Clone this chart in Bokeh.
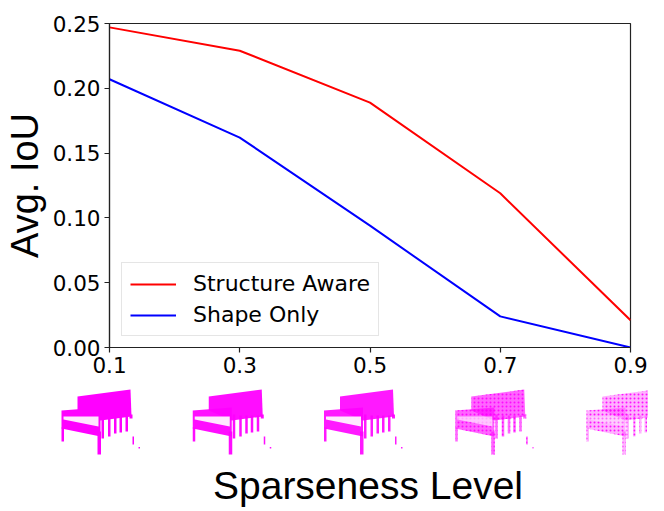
from bokeh.plotting import figure
from bokeh.models import Range1d, FixedTicker, Legend, LegendItem, NumeralTickFormatter
from bokeh.layouts import column
from bokeh.embed import file_html
from bokeh.resources import INLINE
from bokeh.core.properties import value

# ---------------- data ----------------
sparseness = [0.1, 0.3, 0.5, 0.7, 0.9]
structure_aware = [0.247, 0.229, 0.189, 0.119, 0.021]
shape_only = [0.207, 0.162, 0.094, 0.024, 0.0]
x_tick_labels = ["0.1", "0.3", "0.5", "0.7", "0.9"]
y_ticks = [0.0, 0.05, 0.10, 0.15, 0.20, 0.25]
y_tick_labels = ["0.00", "0.05", "0.10", "0.15", "0.20", "0.25"]
series_names = ["Structure Aware", "Shape Only"]

# ---------------- layout constants ----------------
W = 648
H1 = 388
H2 = 120
LEFT = 105
RIGHT = 18
TOP = 23
BOTTOM = 41

p = figure(width=W, height=H1, output_backend="svg", toolbar_location=None,
           x_range=Range1d(0.1, 0.9), y_range=Range1d(0.0, 0.25),
           min_border_left=LEFT, min_border_right=RIGHT,
           min_border_top=TOP, min_border_bottom=BOTTOM)
p.frame_align = False
p.grid.visible = False
p.outline_line_color = "#222222"
p.outline_line_width = 1.2
p.background_fill_color = "white"
p.border_fill_color = "white"

r1 = p.line(sparseness, structure_aware, line_color="#ff0000", line_width=2)
r2 = p.line(sparseness, shape_only, line_color="#0000ff", line_width=2)

for ax in (p.xaxis[0], p.yaxis[0]):
    ax.major_label_text_font = "DejaVu Sans"
    ax.major_label_text_font_size = "21.5px"
    ax.major_label_text_color = "black"
    ax.axis_line_color = "#222222"
    ax.axis_line_width = 1.2
    ax.major_tick_line_color = "#222222"
    ax.major_tick_line_width = 1.2
    ax.major_tick_out = 5
    ax.major_tick_in = 0
    ax.minor_tick_out = 0
    ax.minor_tick_in = 0
    ax.major_label_standoff = 4

p.xaxis.ticker = FixedTicker(ticks=sparseness)
p.xaxis.formatter = NumeralTickFormatter(format="0.0")
p.xaxis.major_label_overrides = {x: s for x, s in zip(sparseness, x_tick_labels)}
p.yaxis.ticker = FixedTicker(ticks=y_ticks)
p.yaxis.formatter = NumeralTickFormatter(format="0.00")
p.yaxis.major_label_overrides = {y: s for y, s in zip(y_ticks, y_tick_labels)}

p.yaxis.axis_label = "Avg. IoU"
p.yaxis.axis_label_text_font = "Liberation Sans"
p.yaxis.axis_label_text_font_size = "38px"
p.yaxis.axis_label_text_font_style = "normal"
p.yaxis.axis_label_text_color = "black"
p.yaxis.axis_label_standoff = 4

legend = Legend(items=[LegendItem(label=series_names[0], renderers=[r1]),
                       LegendItem(label=series_names[1], renderers=[r2])],
                location=(12, 11), margin=0, padding=8, spacing=6,
                glyph_width=46, glyph_height=24, label_standoff=17,
                label_text_font="DejaVu Sans", label_text_font_size="22px",
                label_text_color="black",
                border_line_color="#cccccc", border_line_width=1,
                background_fill_alpha=0.8)
p.add_layout(legend)

# ---------------- chair strip ----------------
ppu = (W - LEFT - RIGHT) / (0.9 - 0.1)
x0 = 0.1 - LEFT / ppu
x1 = 0.9 + RIGHT / ppu
p2 = figure(width=W, height=H2, output_backend="svg", toolbar_location=None,
            x_range=Range1d(x0, x1), y_range=Range1d(H2, 0),
            x_axis_type=None, y_axis_type=None,
            min_border_left=0, min_border_right=0, min_border_top=0, min_border_bottom=0)
p2.frame_align = False
p2.grid.visible = False
p2.outline_line_color = None


def rect(a, b, c, d):
    return [(a, b), (c, b), (c, d), (a, d)]


chair_magenta = [
    [(17, 7), (70, 0), (71, 27), (40, 31), (17, 21)],
    [(1, 21), (40, 18), (40, 47), (1, 39)],
    rect(1, 38, 3.5, 52),
    rect(37, 42, 40.5, 65),
    rect(41, 25, 43.5, 49),
    rect(47.5, 26, 50, 47),
    rect(53.5, 26, 56, 44),
    rect(59, 26, 61.5, 43),
    rect(65, 26, 67.5, 42),
    rect(69, 25, 72, 29),
    rect(72, 47, 73.5, 55),
    rect(78, 57.5, 79.5, 59),
]
chair_white = [[(3, 27), (38, 27), (38, 37), (3, 30)]]
chair_alpha = [1.0, 0.95, 0.9, 0.6, 0.3]
CHAIR_DX = -45
CHAIR_DY = 1

for lvl, a in zip(sparseness, chair_alpha):
    xs = [[lvl + (px + CHAIR_DX) / ppu for px, py in poly] for poly in chair_magenta]
    ys = [[py + CHAIR_DY for px, py in poly] for poly in chair_magenta]
    p2.patches(xs, ys, fill_color="#ff00ff", fill_alpha=a, line_color=None,
               hatch_pattern="." if a < 0.8 else " ", hatch_color="#ff00ff",
               hatch_scale=4, hatch_weight=2, hatch_alpha=0.9)
    wx = [[lvl + (px + CHAIR_DX) / ppu for px, py in poly] for poly in chair_white]
    wy = [[py + CHAIR_DY for px, py in poly] for poly in chair_white]
    p2.patches(wx, wy, fill_color="white", fill_alpha=min(1.0, a + 0.1) * 0.9, line_color=None)

p2.text(x=[0.5], y=[96.5], text=["Sparseness Level"], text_font=value("Liberation Sans"),
        text_font_size="39px", text_align="center", text_baseline="middle",
        text_color="black")

layout = column(p, p2, spacing=0)
open("out.html", "w").write(file_html(layout, INLINE))
